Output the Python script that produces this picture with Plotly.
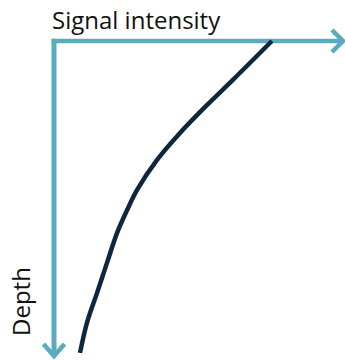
import plotly.graph_objects as go

# Data (normalized units: intensity 0-100 along x, depth 0-100 downward)
intensity = [75.4, 61.9, 52.9, 43.6, 35.6, 28.7, 25.3, 21.8, 18.3, 14.9, 11.4, 9.0]
depth = [0.0, 12.3, 20.3, 29.1, 37.7, 47.2, 53.5, 60.8, 70.3, 79.7, 89.2, 98.7]
x_axis_title = "Signal intensity"
y_axis_title = "Depth"

AXIS_COLOR = "#5aabbd"
CURVE_COLOR = "#10263f"
FONT = "Open Sans"

W, H = 345, 360
# pixel mapping
X0_PX, Y0_PX = 54, 41
SX, SY = 2.89, 3.16
xr = [(0 - X0_PX) / SX, (W - X0_PX) / SX]
yr = [(H - Y0_PX) / SY, (0 - Y0_PX) / SY]

X_END = 100.0
Y_END = 99.7

fig = go.Figure()

# axes lines
fig.add_trace(go.Scatter(x=[-0.8, X_END], y=[0, 0], mode="lines",
                         line=dict(color=AXIS_COLOR, width=4.5), hoverinfo="skip"))
fig.add_trace(go.Scatter(x=[0, 0], y=[-0.7, Y_END], mode="lines",
                         line=dict(color=AXIS_COLOR, width=5), hoverinfo="skip"))
# arrow heads
fig.add_trace(go.Scatter(x=[X_END - 11 / SX, X_END, X_END - 11 / SX],
                         y=[-11 / SY, 0, 11 / SY], mode="lines",
                         line=dict(color=AXIS_COLOR, width=4.5), hoverinfo="skip"))
fig.add_trace(go.Scatter(x=[-10.5 / SX, 0, 10.5 / SX],
                         y=[Y_END - 12 / SY, Y_END, Y_END - 12 / SY], mode="lines",
                         line=dict(color=AXIS_COLOR, width=4.5), hoverinfo="skip"))

# curve
fig.add_trace(go.Scatter(x=intensity, y=depth, mode="lines", line_shape="spline",
                         line=dict(color=CURVE_COLOR, width=4.5), hoverinfo="skip"))

fig.add_annotation(x=(50 - X0_PX) / SX, y=(19.2 - Y0_PX) / SY, xref="x", yref="y",
                   text=x_axis_title, showarrow=False, xanchor="left", yanchor="middle",
                   font=dict(family=FONT, size=24, color="#111111"))
fig.add_annotation(x=(20.5 - X0_PX) / SX, y=(301.5 - Y0_PX) / SY, xref="x", yref="y",
                   text=y_axis_title, showarrow=False, textangle=-90,
                   xanchor="center", yanchor="middle",
                   font=dict(family=FONT, size=24, color="#111111"))

fig.update_layout(
    width=W, height=H, margin=dict(l=0, r=0, t=0, b=0),
    paper_bgcolor="white", plot_bgcolor="white", showlegend=False,
    hovermode=False,
    xaxis=dict(range=xr, visible=False, fixedrange=True),
    yaxis=dict(range=yr, visible=False, fixedrange=True),
)

fig.write_html("out.html",
               config={"displayModeBar": False, "staticPlot": True},
               post_script="document.body.style.margin='0';document.body.style.overflow='hidden';")
